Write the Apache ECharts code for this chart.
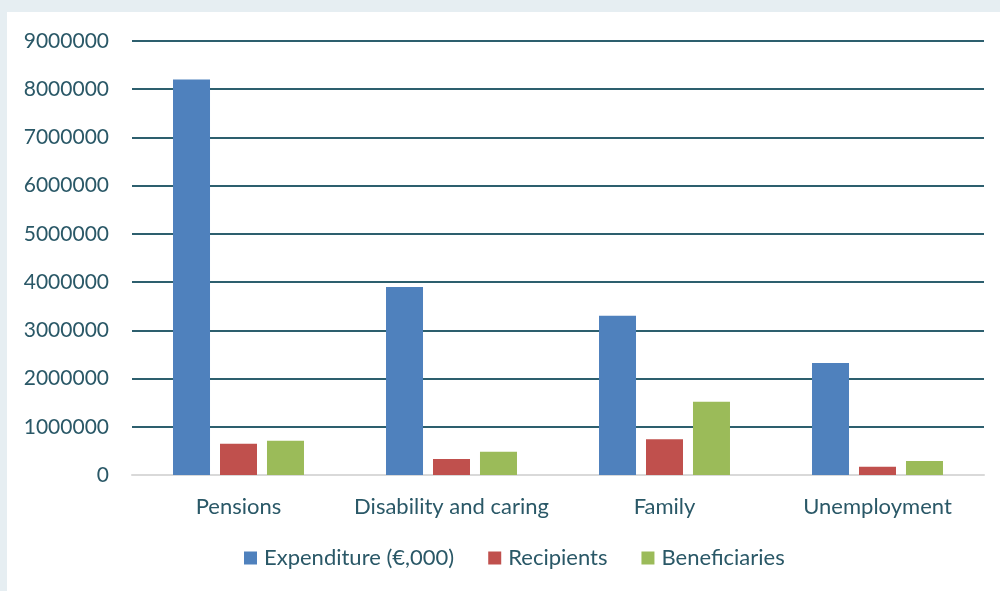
<!DOCTYPE html>
<html>
<head>
<meta charset="utf-8">
<script src="https://cdn.jsdelivr.net/npm/echarts@6/dist/echarts.min.js"></script>
<style>
  html, body { margin: 0; padding: 0; background: #e6eef2; }
  #wrap { position: absolute; left: 7px; top: 12px; width: 993px; height: 579px; background: #ffffff; }
  #chart { width: 993px; height: 579px; }
</style>
</head>
<body>
<div id="wrap"><div id="chart"></div></div>
<script>
// benefit categories and the three measured series
const categories = ['Pensions', 'Disability and caring', 'Family', 'Unemployment']
const expenditure = [8200000, 3900000, 3300000, 2320000]
const recipients = [650000, 330000, 740000, 170000]
const beneficiaries = [710000, 480000, 1520000, 290000]

const TEXT = '#2a5867'
const FONT = 'Lato, "Open Sans", sans-serif'

const chart = echarts.init(document.getElementById('chart'), null, { renderer: 'canvas' })

chart.setOption({
  animation: false,
  color: ['#4f81bd', '#c0504d', '#9bbb59'],
  textStyle: { fontFamily: FONT, color: TEXT },
  grid: { left: 125, right: 16, top: 29, bottom: 116, containLabel: false },
  legend: {
    bottom: 17,
    left: 232,
    itemWidth: 13,
    itemHeight: 13,
    itemGap: 34,
    icon: 'rect',
    textStyle: { fontSize: 22, color: TEXT, fontFamily: FONT, padding: [0, 0, 0, 2] },
    data: ['Expenditure (€,000)', 'Recipients', 'Beneficiaries'],
  },
  xAxis: {
    type: 'category',
    data: categories,
    axisLine: { lineStyle: { color: '#d9d9d9', width: 2 } },
    axisTick: { show: false },
    axisLabel: { fontSize: 22, color: TEXT, margin: 21, interval: 0 },
  },
  yAxis: {
    type: 'value',
    min: 0,
    max: 9000000,
    interval: 1000000,
    axisLine: { show: false },
    axisTick: { show: false },
    axisLabel: { fontSize: 21, color: TEXT, margin: 23, formatter: v => String(v) },
    splitLine: { lineStyle: { color: '#2d5f6e', width: 2 } },
  },
  series: [
    { name: 'Expenditure (€,000)', type: 'bar', data: expenditure, barWidth: 37, barGap: '27%' },
    { name: 'Recipients', type: 'bar', data: recipients, barWidth: 37, barGap: '27%' },
    { name: 'Beneficiaries', type: 'bar', data: beneficiaries, barWidth: 37, barGap: '27%' },
  ],
})
</script>
</body>
</html>
